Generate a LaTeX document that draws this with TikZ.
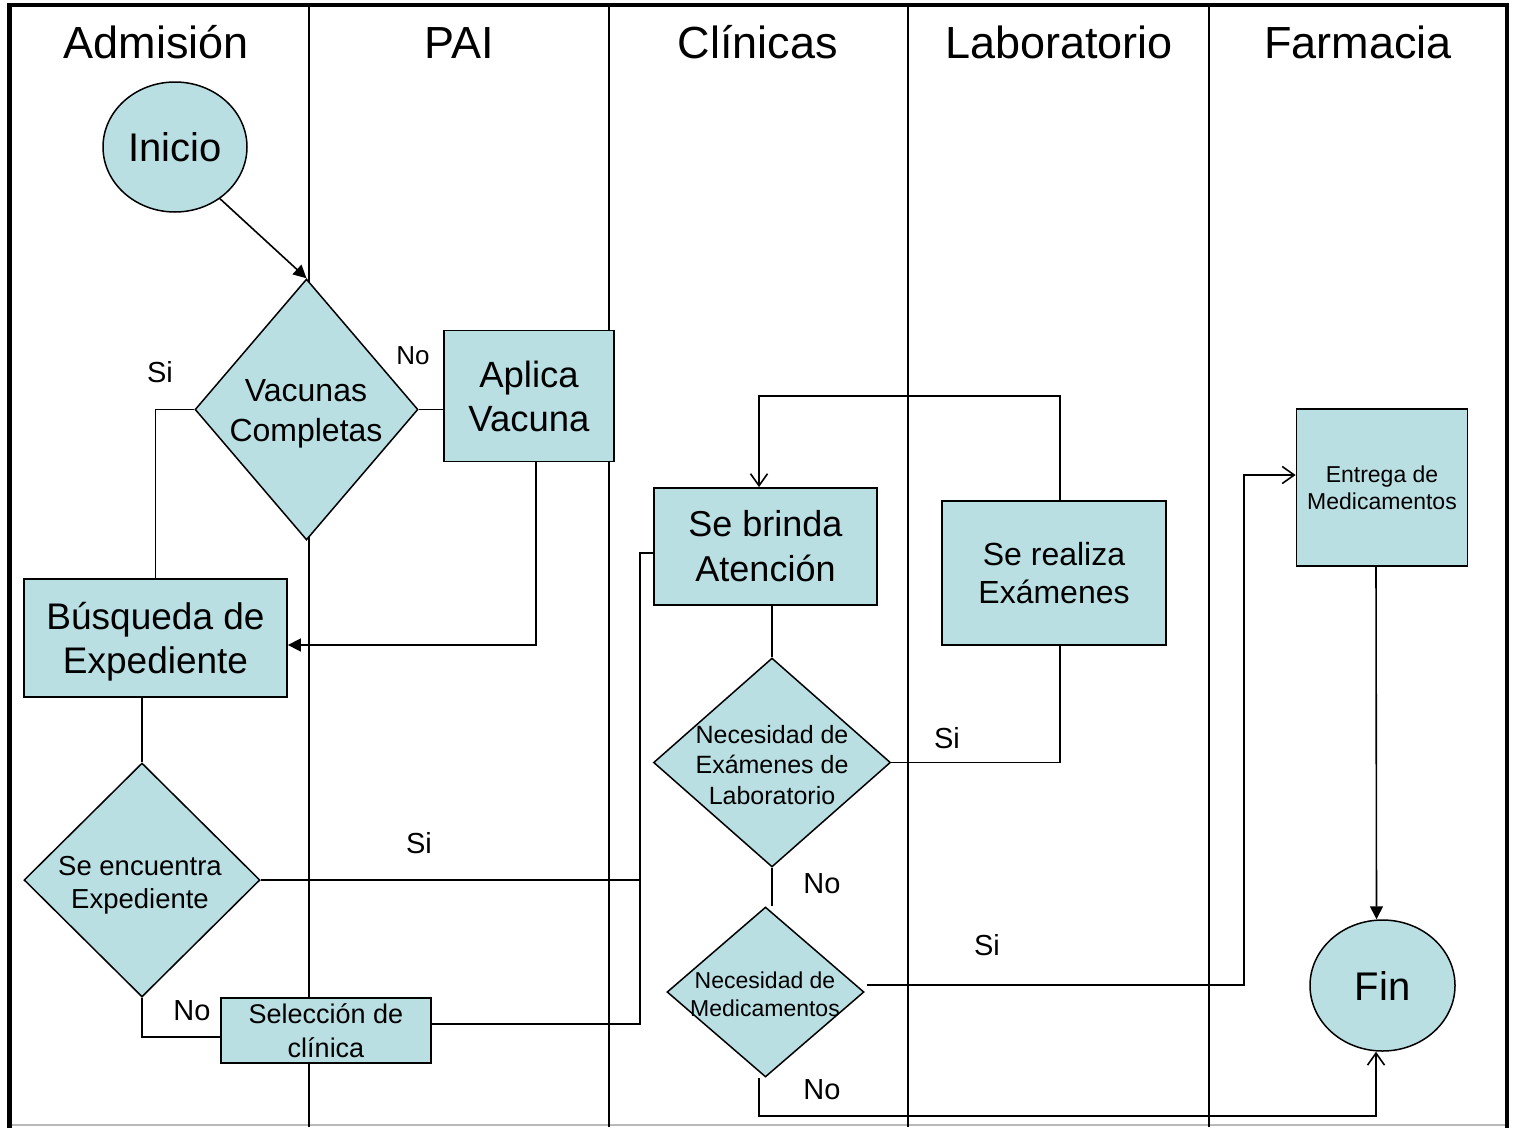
\documentclass[tikz,border=0pt]{standalone}
\usepackage{fontspec}
\setmainfont{Liberation Sans}
\usetikzlibrary{shapes.geometric,arrows.meta}
\definecolor{nodefill}{RGB}{185,223,227}
\tikzset{
  box/.style={draw, line width=1.8pt, fill=nodefill, inner sep=0pt, align=center},
  dia/.style={diamond, draw, line width=1.5pt, fill=nodefill, inner sep=0pt},
  circ/.style={ellipse, draw, line width=1.5pt, fill=nodefill, inner sep=0pt},
  dtext/.style={inner sep=0pt, align=center},
  lbl/.style={inner sep=0pt, font=\fontsize{29}{34}\selectfont},
  hdr/.style={inner sep=0pt, anchor=base, font=\fontsize{45}{54}\selectfont},
  conn/.style={line width=1.6pt},
  farrow/.style={conn, -{Triangle[length=13pt,width=13pt]}},
  oarrow/.style={conn, -{Straight Barb[length=12pt,width=17pt]}},
  lane/.style={line width=2.5pt},
}
\begin{document}
\begin{tikzpicture}[x=1pt,y=-1pt]
\useasboundingbox (0,0) rectangle (1517,1127);
% frame and lanes
\draw[gray!55, line width=1.5pt] (9.5,1125) -- (1507,1125);
\draw[line width=4.5pt] (9.5,1130) -- (9.5,5) -- (1507,5) -- (1507,1130);
\foreach \x in {309,609,908,1209} \draw[lane] (\x,5) -- (\x,1127);
% headers
\node[hdr] (h1) at (156.5,58) {Admisión};
\node[hdr] (h2) at (459,58) {PAI};
\node[hdr] (h3) at (758,58) {Clínicas};
\node[hdr] (h4) at (1059,58) {Laboratorio};
\node[hdr] (h5) at (1358,58) {Farmacia};
% nodes
\node[circ, minimum width=144pt, minimum height=130pt, font=\fontsize{40}{48}\selectfont] (inicio) at (175,147) {Inicio};
\node[dia, minimum width=223pt, minimum height=261pt] (d1) at (306.5,409.5) {};
\node[dtext, font=\fontsize{32}{40}\selectfont] (d1t) at (306,414) {Vacunas\\Completas};
\node[box, minimum width=170pt, minimum height=131pt, font=\fontsize{36.5}{44}\selectfont] (aplica) at (529,396) {Aplica\\Vacuna};
\node[box, minimum width=263pt, minimum height=118pt, text depth=0pt, font=\fontsize{37}{44}\selectfont] (busq) at (155.5,638) {Búsqueda de\\Expediente};
\node[dia, minimum width=236pt, minimum height=234pt] (d2) at (142,880) {};
\node[dtext, font=\fontsize{27.5}{33}\selectfont] (d2t) at (140,885) {Se encuentra\\Expediente};
\node[box, minimum width=210pt, minimum height=65pt, font=\fontsize{27}{34}\selectfont] (sel) at (326,1030.5) {Selección de\\clínica};
\node[box, minimum width=223pt, minimum height=117pt, font=\fontsize{36}{45}\selectfont] (sebrinda) at (765.5,546.5) {Se brinda\\Atención};
\node[box, minimum width=224pt, minimum height=144pt, font=\fontsize{32}{38}\selectfont] (serealiza) at (1054,573) {Se realiza\\Exámenes};
\node[dia, minimum width=237pt, minimum height=209pt] (d3) at (772,762.5) {};
\node[dtext, font=\fontsize{25}{30.5}\selectfont] (d3t) at (772,765) {Necesidad de\\Exámenes de\\Laboratorio};
\node[dia, minimum width=197pt, minimum height=170pt] (d4) at (765.5,992) {};
\node[dtext, font=\fontsize{23}{28}\selectfont] (d4t) at (765,994) {Necesidad de\\Medicamentos};
\node[box, minimum width=171pt, minimum height=157pt, font=\fontsize{23}{27}\selectfont] (entrega) at (1382,487.5) {Entrega de\\Medicamentos};
\node[circ, minimum width=145pt, minimum height=131pt, font=\fontsize{40}{48}\selectfont] (fin) at (1382.5,985.5) {Fin};
% labels
\node[lbl] (l1) at (160,372) {Si};
\node[lbl, font=\fontsize{26}{30}\selectfont] (l2) at (413,356) {No};
\node[lbl] (l3) at (419,843) {Si};
\node[lbl] (l4) at (192,1011) {No};
\node[lbl] (l5) at (947,738) {Si};
\node[lbl] (l6) at (822,884) {No};
\node[lbl] (l7) at (987,945) {Si};
\node[lbl] (l8) at (822,1090) {No};
% helper coordinates
\coordinate (bus) at (640,553);
\coordinate (loop) at (759,396);
\coordinate (d3end) at (772,906);
\coordinate (m1) at (1244,475);
\coordinate (m2) at (759,1116);
% connectors
\draw[farrow] (inicio.-49) -- (d1.north);
\draw[conn] (d1.west) -| (busq.north);
\draw[conn] (d1.east) -- (d1.east -| aplica.west);
\draw[farrow] ([xshift=7pt]aplica.south) |- ([yshift=-7pt]busq.east);
\draw[conn] (d2.north |- busq.south) -- (d2.north);
\draw[conn] (d2.east) -| (bus) -- (bus -| sebrinda.west);
\draw[conn] ([yshift=6.5pt]sel.east) -| (bus);
\draw[conn] (d2.south) |- ([yshift=-6.5pt]sel.west);
\draw[conn] (d3.north |- sebrinda.south) -- (d3.north);
\draw[conn] (d3.east) -| ([xshift=6pt]serealiza.south);
\draw[oarrow] ([xshift=6pt]serealiza.north) |- (loop) -- (loop |- sebrinda.north);
\draw[conn] (d3.south) -- (d3end);
\draw[oarrow] ([shift={(2pt,7pt)}]d4.east) -| (m1) -- ([yshift=12.5pt]entrega.west);
\draw[oarrow] ([xshift=-6.5pt]d4.south) -- (m2) -| ([xshift=-6.5pt]fin.south);
\draw[farrow] ([xshift=-6pt]entrega.south) -- ([xshift=-6pt]fin.north);
\end{tikzpicture}
\end{document}
